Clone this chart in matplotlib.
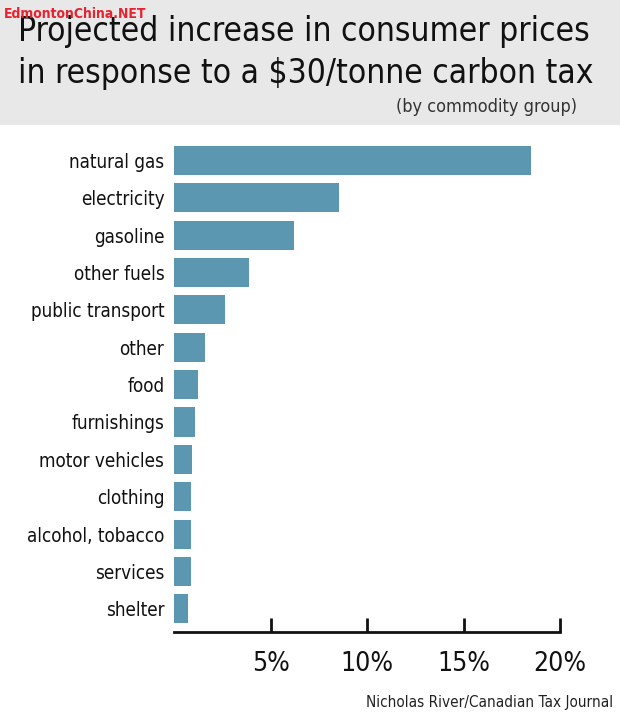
import matplotlib.pyplot as plt
from matplotlib.patches import Rectangle
from matplotlib.ticker import FixedLocator, NullLocator

categorias = ["natural gas", "electricity", "gasoline", "other fuels", "public transport",
              "other", "food", "furnishings", "motor vehicles", "clothing",
              "alcohol, tobacco", "services", "shelter"]
valores = [18.5, 8.55, 6.2, 3.9, 2.65, 1.6, 1.25, 1.1, 0.95, 0.9, 0.9, 0.9, 0.7]
ticks = [5, 10, 15, 20]
rotulos_ticks = ["5%", "10%", "15%", "20%"]

W, H = 620, 717
fig = plt.figure(figsize=(W / 100, H / 100), dpi=100)
fig.patch.set_facecolor("white")

# faixa cinza do titulo
fig.patches.append(Rectangle((0, 1 - 125 / H), 1, 125 / H, transform=fig.transFigure,
                             facecolor="#e8e8e8", edgecolor="none", zorder=0))

fam = ["DejaVu Sans"]
cond = "condensed"
fig.text(18 / W, 1 - 32 / H, "Projected increase in consumer prices", fontsize=24,
         family=fam, stretch=cond, color="#111111", va="center", ha="left")
fig.text(18 / W, 1 - 73 / H, "in response to a $30/tonne carbon tax", fontsize=24,
         family=fam, stretch=cond, color="#111111", va="center", ha="left")
fig.text(577 / W, 1 - 107 / H, "(by commodity group)", fontsize=13,
         family=fam, stretch=cond, color="#333333", va="center", ha="right")
fig.text(4 / W, 1 - 14 / H, "EdmontonChina.NET", fontsize=10, family=fam, stretch=cond,
         color="#e8232f", fontweight="bold", va="center", ha="left", zorder=5)

# eixo: x=0 em 174px, 20% em 560px; barras de y 141 a 632
ax = fig.add_axes([174 / W, 1 - 632 / H, (560 - 174) / W, (632 - 141) / H])
y = list(range(len(categorias)))
ax.barh(y, valores, height=0.78, color="#5b97b0", edgecolor="none")
ax.set_xlim(0, 20)
ax.set_ylim(len(categorias) - 0.5 + 0.12, -0.5 - 0.02)
ax.set_yticks(y)
ax.set_yticklabels(categorias, family=fam, stretch=cond, fontsize=13.5, color="#111111")
ax.tick_params(axis="y", length=0, pad=7)
ax.xaxis.set_major_locator(FixedLocator(ticks))
ax.xaxis.set_minor_locator(NullLocator())
ax.set_xticklabels(rotulos_ticks, family=fam, stretch=cond, fontsize=19, color="#111111")
ax.tick_params(axis="x", direction="in", length=10, width=2, pad=14, color="#111111")
for s in ["top", "right", "left"]:
    ax.spines[s].set_visible(False)
ax.spines["bottom"].set_linewidth(2)
ax.spines["bottom"].set_color("#111111")
ax.set_facecolor("none")

fig.text(613 / W, 1 - 702 / H, "Nicholas River/Canadian Tax Journal", fontsize=11,
         family=fam, stretch=cond, color="#222222", va="center", ha="right")

fig.savefig("out.png", dpi=100)
